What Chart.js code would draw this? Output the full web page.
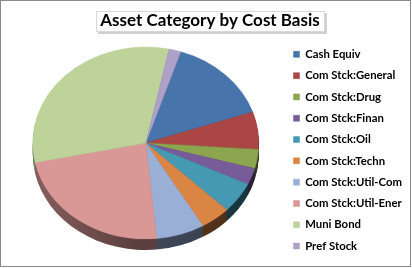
<!DOCTYPE html>
<html><head><meta charset="utf-8">
<script src="https://cdn.jsdelivr.net/npm/chart.js@4/dist/chart.umd.min.js"></script>
<style>html,body{margin:0;padding:0;background:#fff}#wrap{width:412px;height:268px;position:relative}canvas{display:block}</style>
</head><body><div id="wrap"><canvas id="c" width="412" height="268"></canvas></div>
<script>
const chartTitle = 'Asset Category by Cost Basis';
const categories = ['Cash Equiv','Com Stck:General','Com Stck:Drug','Com Stck:Finan','Com Stck:Oil','Com Stck:Techn','Com Stck:Util-Com','Com Stck:Util-Ener','Muni Bond','Pref Stock'];
const costBasis = [14.8, 6.3, 3.2, 2.8, 5.2, 4.3, 6.9, 23.3, 31.6, 1.7];
const sliceColors = ['#4774AA','#AA4644','#8BA64E','#775C99','#4599B3','#DA8543','#9AAFD6','#D99896','#BED39A','#AEA1C8'];

const TILT = 0.85, DEPTH = 11, CENTER_Y = 143;
const FONT = 'Lato, "Liberation Sans", sans-serif';
const TITLE_SIZE = 17;

function shade(hex, f) {
  const n = parseInt(hex.slice(1), 16);
  const r = Math.round(((n >> 16) & 255) * f), g = Math.round(((n >> 8) & 255) * f), b = Math.round((n & 255) * f);
  return `rgb(${r},${g},${b})`;
}
function applyTilt(ctx, arc, dy) {
  ctx.translate(arc.x, CENTER_Y + dy);
  ctx.scale(1, TILT);
  ctx.translate(-arc.x, -arc.y);
}

const framePlugin = {
  id: 'frame',
  beforeDraw(chart) {
    const ctx = chart.ctx;
    ctx.save();
    ctx.fillStyle = '#fff';
    ctx.fillRect(0, 0, chart.width, chart.height);
    ctx.strokeStyle = '#8a8a8a';
    ctx.lineWidth = 1;
    ctx.strokeRect(0.5, 0.5, chart.width - 2, chart.height - 2);
    // title box
    const t = chart.titleBlock;
    const opts = chart.options.plugins.title;
    ctx.font = `bold ${TITLE_SIZE}px ${FONT}`;
    const w = ctx.measureText(chartTitle).width;
    const cx = (t.left + t.right) / 2;
    const cy = t.top + opts.padding.top + TITLE_SIZE * 1.2 / 2;
    const x0 = Math.round(cx - w / 2 - 4) + 0.5, y0 = Math.round(cy - 10) + 0.5;
    const bw = Math.round(w + 8), bh = 20;
    ctx.fillStyle = 'rgba(0,0,0,0.18)';
    ctx.fillRect(x0 + 1.5, y0 + 1.5, bw + 1, bh + 1);
    ctx.fillStyle = '#fff';
    ctx.fillRect(x0, y0, bw, bh);
    ctx.strokeStyle = '#d8d8d8';
    ctx.strokeRect(x0, y0, bw, bh);
    ctx.restore();
  }
};

const pie3dPlugin = {
  id: 'pie3d',
  beforeDatasetsDraw(chart) {
    const ctx = chart.ctx;
    const meta = chart.getDatasetMeta(0);
    const a0 = meta.data[0];
    for (let k = DEPTH; k >= 1; k--) {
      meta.data.forEach((arc, i) => {
        ctx.save();
        applyTilt(ctx, arc, k);
        const g = ctx.createLinearGradient(arc.x - arc.outerRadius, 0, arc.x + arc.outerRadius, 0);
        g.addColorStop(0, shade(sliceColors[i], 0.62));
        g.addColorStop(0.45, shade(sliceColors[i], 0.42));
        g.addColorStop(1, shade(sliceColors[i], 0.34));
        ctx.fillStyle = g;
        ctx.beginPath();
        ctx.moveTo(arc.x, arc.y);
        ctx.arc(arc.x, arc.y, arc.outerRadius, arc.startAngle, arc.endAngle);
        ctx.closePath();
        ctx.fill();
        ctx.restore();
      });
    }
    ctx.save();
    applyTilt(ctx, a0, 0);
  },
  afterDatasetsDraw(chart) {
    chart.ctx.restore();
  }
};

new Chart(document.getElementById('c'), {
  type: 'pie',
  data: {
    labels: categories,
    datasets: [{
      data: costBasis,
      backgroundColor: sliceColors,
      borderColor: sliceColors,
      borderWidth: 0.5,
      radius: 113,
      clip: false
    }]
  },
  options: {
    responsive: false,
    animation: false,
    devicePixelRatio: 1,
    rotation: 18,
    layout: { padding: { left: 8, right: 0, top: 0, bottom: 0 } },
    plugins: {
      tooltip: { enabled: false },
      title: {
        display: true,
        text: chartTitle,
        color: '#000',
        font: { family: FONT, size: TITLE_SIZE, weight: 'bold' },
        padding: { top: 10.5, bottom: 1.5 }
      },
      legend: {
        position: 'right',
        align: 'center',
        fullSize: false,
        labels: {
          color: '#000',
          font: { family: FONT, size: 11.35, weight: 'bold' },
          boxWidth: 6,
          boxHeight: 6,
          padding: 9.95
        }
      }
    }
  },
  plugins: [framePlugin, pie3dPlugin]
});
</script>
</body></html>
